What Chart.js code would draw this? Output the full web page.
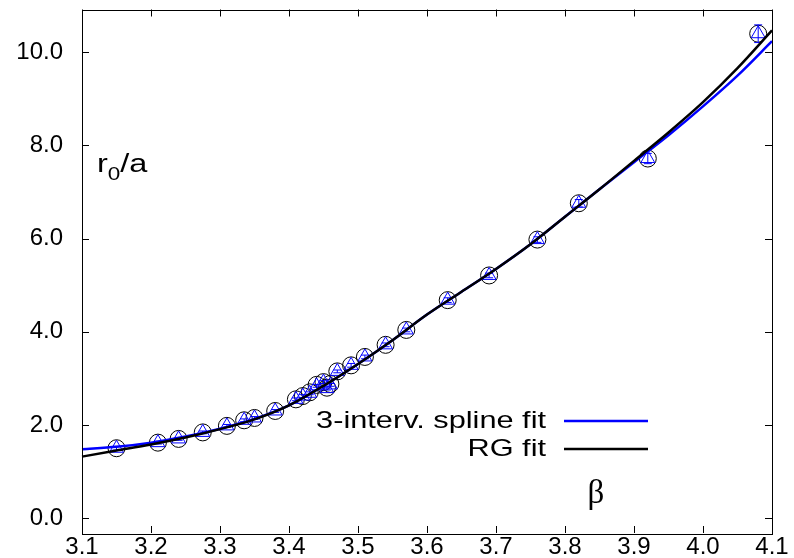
<!DOCTYPE html>
<html>
<head>
<meta charset="utf-8">
<script src="https://cdn.jsdelivr.net/npm/chart.js@4/dist/chart.umd.min.js"></script>
<style>
html,body{margin:0;padding:0;background:#fff;}
canvas{display:block;}
</style>
</head>
<body>
<canvas id="c" width="794" height="558"></canvas>
<script>
// ---- data ----
const betaData = [3.15, 3.21, 3.24, 3.275, 3.31, 3.335, 3.35, 3.38, 3.41, 3.42, 3.43, 3.44, 3.45, 3.455, 3.46, 3.47, 3.49, 3.51, 3.54, 3.57, 3.63, 3.69, 3.76, 3.82, 3.92, 4.08];
const r0Circle = [1.50, 1.62, 1.70, 1.84, 1.98, 2.10, 2.15, 2.30, 2.55, 2.62, 2.70, 2.86, 2.92, 2.80, 2.88, 3.15, 3.28, 3.46, 3.72, 4.04, 4.68, 5.21, 5.98, 6.76, 7.72, 10.40];
const r0Triangle = [1.50, 1.62, 1.70, 1.84, 1.98, 2.10, 2.15, 2.30, 2.55, 2.62, 2.68, 2.84, 2.92, 2.78, 2.86, 3.15, 3.28, 3.46, 3.72, 4.04, 4.68, 5.21, 5.98, 6.76, 7.72, 10.40];
const r0Error = [0.04, 0.03, 0.03, 0.03, 0.03, 0.03, 0.03, 0.03, 0.03, 0.03, 0.03, 0.03, 0.03, 0.03, 0.03, 0.03, 0.04, 0.04, 0.04, 0.04, 0.05, 0.05, 0.06, 0.08, 0.11, 0.19];

const betaFit = [3.10, 3.15, 3.20, 3.25, 3.30, 3.35, 3.40, 3.45, 3.50, 3.55, 3.60, 3.65, 3.70, 3.75, 3.80, 3.85, 3.90, 3.95, 4.00, 4.05, 4.10];
const rgFit = [1.32, 1.45, 1.58, 1.73, 1.91, 2.12, 2.42, 2.84, 3.31, 3.82, 4.37, 4.86, 5.35, 5.88, 6.47, 7.06, 7.67, 8.28, 8.93, 9.66, 10.47];
const splineFit = [1.48, 1.53, 1.62, 1.75, 1.92, 2.13, 2.42, 2.84, 3.31, 3.82, 4.37, 4.86, 5.35, 5.88, 6.47, 7.06, 7.64, 8.22, 8.84, 9.50, 10.24];

const xTickValues = [3.1, 3.2, 3.3, 3.4, 3.5, 3.6, 3.7, 3.8, 3.9, 4.0, 4.1];
const yTickValues = [0, 2, 4, 6, 8, 10];

const legendLabels = ['3-interv. spline fit', 'RG fit'];
const yAxisTitle = ['r', '0', '/a'];
const xAxisTitle = '\u03b2';

const BLUE = '#0000ff';
const FONT = '"Liberation Sans", Arial, sans-serif';

const pts = (xs, ys) => xs.map((x, i) => ({x: x, y: ys[i]}));

function wideText(ctx, txt, x, y, k) {
  ctx.save();
  ctx.translate(x, y);
  ctx.scale(k, 1);
  ctx.fillText(txt, 0, 0);
  ctx.restore();
  return ctx.measureText(txt).width * k;
}

const frame = {
  id: 'frame',
  afterDatasetDraw(chart, args) {
    if (args.index !== 2) return;
    const ctx = chart.ctx, xs = chart.scales.x, ys = chart.scales.y;
    ctx.save();
    ctx.strokeStyle = BLUE; ctx.lineWidth = 1;
    betaData.forEach((b, i) => {
      const px = xs.getPixelForValue(b);
      const y1 = ys.getPixelForValue(r0Triangle[i] - r0Error[i]);
      const y2 = ys.getPixelForValue(r0Triangle[i] + r0Error[i]);
      ctx.beginPath();
      ctx.moveTo(px, y1); ctx.lineTo(px, y2);
      ctx.moveTo(px - 4, y1); ctx.lineTo(px + 4, y1);
      ctx.moveTo(px - 4, y2); ctx.lineTo(px + 4, y2);
      ctx.stroke();
    });
    ctx.restore();
  },
  afterDraw(chart) {
    const ctx = chart.ctx, a = chart.chartArea, xs = chart.scales.x, ys = chart.scales.y;
    ctx.save();
    ctx.strokeStyle = '#000'; ctx.lineWidth = 1;
    ctx.strokeRect(Math.round(a.left) + 0.5, Math.round(a.top) + 0.5, Math.round(a.right - a.left), Math.round(a.bottom - a.top));
    const tl = 7;
    ctx.beginPath();
    xTickValues.forEach(v => {
      const px = Math.round(xs.getPixelForValue(v)) + 0.5;
      ctx.moveTo(px, a.bottom); ctx.lineTo(px, a.bottom - tl);
      ctx.moveTo(px, a.top); ctx.lineTo(px, a.top + tl);
    });
    yTickValues.forEach(v => {
      const py = Math.round(ys.getPixelForValue(v)) + 0.5;
      ctx.moveTo(a.left, py); ctx.lineTo(a.left + tl, py);
      ctx.moveTo(a.right, py); ctx.lineTo(a.right - tl, py);
    });
    ctx.stroke();

    // x tick labels
    ctx.fillStyle = '#000';
    ctx.font = '24px ' + FONT;
    ctx.textAlign = 'center';
    ctx.textBaseline = 'alphabetic';
    xTickValues.forEach(v => {
      ctx.fillText(v.toFixed(1), xs.getPixelForValue(v), 554);
    });

    // axis titles
    ctx.textAlign = 'left';
    const k = 1.25;
    ctx.font = '26px ' + FONT;
    let x = 97, base = 172;
    x += wideText(ctx, yAxisTitle[0], x, base, k);
    ctx.font = '18px ' + FONT;
    x += wideText(ctx, yAxisTitle[1], x, base + 8, k);
    ctx.font = '26px ' + FONT;
    wideText(ctx, yAxisTitle[2], x, base, k);

    ctx.font = '33px "Liberation Serif", serif';
    ctx.textAlign = 'center';
    ctx.fillText(xAxisTitle, 596, 503);

    // legend
    const legendColors = [BLUE, '#000'];
    const legendY = [421, 449];
    ctx.font = '24px ' + FONT;
    ctx.textAlign = 'left';
    ctx.textBaseline = 'middle';
    legendLabels.forEach((lab, i) => {
      ctx.fillStyle = '#000';
      const w = ctx.measureText(lab).width * 1.28;
      wideText(ctx, lab, 546 - w, legendY[i], 1.28);
      ctx.strokeStyle = legendColors[i];
      ctx.lineWidth = 2.5;
      ctx.beginPath();
      ctx.moveTo(564, legendY[i]); ctx.lineTo(648, legendY[i]);
      ctx.stroke();
    });
    ctx.restore();
  }
};

new Chart(document.getElementById('c'), {
  type: 'scatter',
  data: {
    datasets: [
      {label: legendLabels[1], data: pts(betaFit, rgFit), showLine: true, borderColor: '#000', borderWidth: 2.5,
       pointRadius: 0, cubicInterpolationMode: 'monotone', fill: false},
      {label: legendLabels[0], data: pts(betaFit, splineFit), showLine: true, borderColor: BLUE, borderWidth: 2.5,
       pointRadius: 0, cubicInterpolationMode: 'monotone', fill: false},
      {label: 'triangles', data: pts(betaData, r0Triangle), showLine: false, pointStyle: 'triangle', pointRadius: 8,
       borderColor: BLUE, backgroundColor: 'rgba(0,0,0,0)', pointBorderWidth: 1},
      {label: 'circles', data: pts(betaData, r0Circle), showLine: false, pointStyle: 'circle', pointRadius: 8.5,
       borderColor: '#000', backgroundColor: 'rgba(0,0,0,0)', pointBorderWidth: 1}
    ]
  },
  options: {
    responsive: false,
    animation: false,
    clip: false,
    layout: {padding: {top: 9, right: 22, left: 0, bottom: 0}},
    plugins: {legend: {display: false}, tooltip: {enabled: false}},
    scales: {
      x: {
        type: 'linear', min: 3.1, max: 4.1,
        afterBuildTicks: s => { s.ticks = xTickValues.map(v => ({value: v})); },
        afterFit: s => { s.height = 25; s.paddingLeft = 0; s.paddingRight = 0; s.paddingTop = 0; s.paddingBottom = 0; },
        grid: {display: false, drawTicks: false},
        border: {display: false},
        ticks: {display: false}
      },
      y: {
        type: 'linear', min: -0.32, max: 10.92,
        afterBuildTicks: s => { s.ticks = yTickValues.map(v => ({value: v})); },
        afterFit: s => { s.width = 82; s.paddingTop = 0; s.paddingBottom = 0; s.paddingLeft = 0; s.paddingRight = 0; },
        grid: {display: false, drawTicks: false},
        border: {display: false},
        ticks: {padding: 19, color: '#000', font: {family: FONT, size: 24},
                callback: v => Number(v).toFixed(1)}
      }
    }
  },
  plugins: [frame]
});
</script>
</body>
</html>
